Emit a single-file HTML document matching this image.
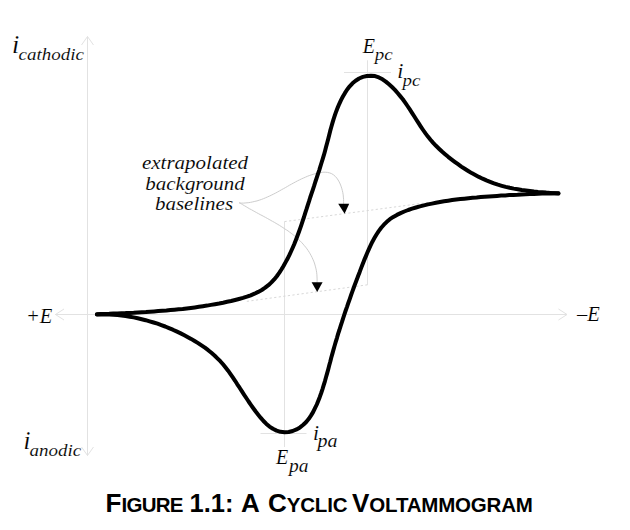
<!DOCTYPE html>
<html><head><meta charset="utf-8"><style>
html,body{margin:0;padding:0;background:#fff;width:630px;height:530px;overflow:hidden}
svg{position:absolute;left:0;top:0}
.t{font-family:"Liberation Serif",serif;font-style:italic;fill:#000;stroke:#fff;stroke-width:0.12px}
.cap{font-family:"Liberation Sans",sans-serif;font-weight:bold;fill:#000}
</style></head><body>
<svg width="630" height="530" viewBox="0 0 630 530">
<g stroke="#e2e2e2" stroke-width="1" fill="none">
<line x1="87.5" y1="36.5" x2="87.5" y2="455.5"/>
<polyline points="81.5,45 87.5,36.5 93.5,45"/>
<polyline points="81.5,447 87.5,455.5 93.5,447"/>
<line x1="55" y1="314.5" x2="567" y2="314.5"/>
<polyline points="64,309 55.5,314.5 64,320"/>
<polyline points="558.5,309 567,314.5 558.5,320"/>
<line x1="367.5" y1="60.3" x2="367.5" y2="284.8"/>
<line x1="344" y1="72.5" x2="391" y2="72.5"/>
<line x1="284.5" y1="221.6" x2="284.5" y2="447"/>
<line x1="260.5" y1="433.5" x2="306.5" y2="433.5"/>
</g>
<g stroke="#d8d8d8" stroke-width="1" fill="none" stroke-dasharray="2.2,2.4">
<line x1="367.5" y1="284.8" x2="245" y2="301.6"/>
<line x1="284.5" y1="221.6" x2="430" y2="202.3"/>
</g>
<g stroke="#cdcdcd" stroke-width="1" fill="none">
<path d="M239.2,203.1 L241.4,203.1 L243.7,203.1 L245.9,202.9 L248.2,202.7 L250.4,202.4 L252.6,201.9 L254.8,201.4 L257.0,200.9 L259.2,200.2 L261.3,199.5 L263.4,198.7 L265.5,197.8 L267.6,196.9 L269.6,196.0 L271.7,195.0 L273.7,194.0 L275.7,193.0 L277.7,191.9 L279.7,190.8 L281.6,189.7 L283.6,188.6 L285.6,187.5 L287.5,186.4 L289.5,185.2 L291.5,184.1 L293.5,183.0 L295.4,182.0 L297.4,180.9 L299.5,179.9 L301.5,178.9 L303.5,178.0 L305.6,177.1 L307.7,176.2 L309.8,175.4 L311.9,174.7 L314.1,174.0 L316.3,173.4 L318.5,172.9 L320.7,172.5 L322.9,172.2 L325.2,172.2 L327.4,172.4 L329.6,172.9 L331.7,173.7 L333.6,174.9 L335.3,176.4 L336.8,178.1 L338.1,180.0 L339.2,181.9 L340.2,184.0 L341.0,186.1 L341.7,188.2 L342.3,190.4 L342.8,192.6 L343.2,194.8 L343.4,197.1 L343.6,199.3 L343.6,201.6 L343.6,203.9"/>
<path d="M239.3,202.5 L241.0,203.6 L242.7,204.7 L244.4,205.7 L246.1,206.7 L247.9,207.8 L249.6,208.8 L251.4,209.7 L253.1,210.7 L254.9,211.7 L256.7,212.7 L258.4,213.6 L260.2,214.6 L262.0,215.5 L263.8,216.5 L265.5,217.4 L267.3,218.4 L269.1,219.4 L270.8,220.4 L272.6,221.4 L274.3,222.3 L276.1,223.4 L277.8,224.4 L279.5,225.4 L281.2,226.5 L282.9,227.6 L284.6,228.7 L286.3,229.8 L288.0,230.9 L289.6,232.1 L291.2,233.3 L292.8,234.5 L294.4,235.8 L295.9,237.1 L297.4,238.4 L298.9,239.8 L300.4,241.2 L301.8,242.7 L303.1,244.1 L304.4,245.7 L305.7,247.2 L306.9,248.8 L308.1,250.5 L309.2,252.2 L310.2,253.9 L311.2,255.7 L312.1,257.5 L312.9,259.3 L313.7,261.1 L314.4,263.0 L315.0,265.0 L315.5,266.9 L316.0,268.9 L316.4,270.8 L316.7,272.8 L316.9,274.8 L317.0,276.9 L317.1,278.9 L317.1,280.9 L317.0,282.9"/>
</g>
<g fill="#000">
<path d="M338.2,203.8 L349.2,203.8 L344.6,213.8 Z"/>
<path d="M311.6,282.2 L322.6,282.2 L317.2,292 Z"/>
</g>
<g stroke="#000" stroke-width="4.0" fill="none" stroke-linecap="round" stroke-linejoin="round">
<path d="M96.9,314.3 L101.0,314.1 L105.1,313.9 L109.2,313.8 L113.3,313.6 L117.4,313.4 L121.4,313.2 L125.5,313.1 L129.6,312.9 L133.7,312.7 L137.8,312.4 L141.9,312.2 L146.0,312.0 L150.0,311.7 L154.1,311.4 L158.2,311.1 L162.3,310.8 L166.4,310.5 L170.4,310.1 L174.5,309.7 L178.6,309.3 L182.7,308.9 L186.7,308.4 L190.8,307.9 L194.8,307.4 L198.9,306.8 L202.9,306.2 L207.0,305.6 L211.0,304.9 L215.0,304.2 L219.1,303.5 L223.1,302.7 L227.1,301.8 L231.1,301.0 L235.1,300.0 L239.0,299.0 L243.0,297.9 L246.9,296.7 L250.7,295.3 L254.5,293.7 L258.2,291.9 L261.8,290.0 L265.2,287.7 L268.4,285.2 L271.4,282.4 L274.2,279.4 L276.8,276.2 L279.2,272.9 L281.4,269.5 L283.5,266.0 L285.5,262.4 L287.5,258.8 L289.3,255.2 L291.0,251.5 L292.7,247.7 L294.3,244.0 L295.8,240.2 L297.3,236.3 L298.7,232.5 L300.1,228.6 L301.4,224.8 L302.7,220.9 L304.0,217.0 L305.2,213.1 L306.5,209.2 L307.7,205.3 L309.0,201.4 L310.2,197.5 L311.5,193.6 L312.8,189.8 L314.1,185.9 L315.3,182.0 L316.6,178.1 L317.9,174.2 L319.2,170.3 L320.4,166.4 L321.6,162.5 L322.8,158.6 L324.0,154.7 L325.1,150.7 L326.1,146.8 L327.2,142.8 L328.2,138.9 L329.2,134.9 L330.2,130.9 L331.3,127.0 L332.4,123.1 L333.6,119.1 L334.9,115.2 L336.2,111.4 L337.7,107.6 L339.3,103.8 L341.0,100.1 L342.9,96.5 L345.0,92.9 L347.2,89.5 L349.7,86.3 L352.5,83.3 L355.6,80.7 L359.1,78.5 L362.9,76.9 L366.9,76.0 L370.9,75.7 L375.0,76.1 L378.9,77.4 L382.5,79.3 L385.8,81.6 L389.0,84.3 L392.0,87.0 L394.9,89.9 L397.6,93.0 L400.2,96.1 L402.8,99.3 L405.2,102.6 L407.5,106.0 L409.8,109.4 L412.0,112.8 L414.2,116.3 L416.4,119.8 L418.6,123.2 L420.8,126.6 L423.1,130.0 L425.5,133.4 L427.9,136.6 L430.5,139.8 L433.2,142.9 L436.0,145.8 L439.0,148.7 L442.0,151.5 L445.1,154.2 L448.2,156.8 L451.4,159.3 L454.7,161.8 L458.0,164.2 L461.3,166.6 L464.7,168.8 L468.2,171.0 L471.7,173.1 L475.3,175.0 L478.9,176.9 L482.6,178.7 L486.4,180.4 L490.1,181.9 L494.0,183.4 L497.9,184.7 L501.8,185.8 L505.7,186.9 L509.7,187.8 L513.7,188.6 L517.8,189.3 L521.8,190.0 L525.9,190.5 L529.9,191.0 L534.0,191.5 L538.1,191.9 L542.1,192.2 L546.2,192.6 L550.3,192.9 L554.4,193.2 L558.4,193.5"/>
<path d="M558.5,193.2 L554.4,193.3 L550.3,193.4 L546.2,193.5 L542.1,193.6 L538.0,193.7 L533.9,193.9 L529.8,194.1 L525.7,194.3 L521.6,194.4 L517.5,194.7 L513.4,194.9 L509.3,195.1 L505.2,195.4 L501.1,195.6 L497.0,195.9 L492.9,196.2 L488.9,196.5 L484.8,196.8 L480.7,197.1 L476.6,197.5 L472.5,197.8 L468.4,198.2 L464.3,198.7 L460.3,199.1 L456.2,199.6 L452.1,200.1 L448.1,200.7 L444.0,201.3 L440.0,202.0 L435.9,202.8 L431.9,203.6 L427.9,204.4 L423.9,205.4 L419.9,206.4 L416.0,207.5 L412.1,208.7 L408.2,210.0 L404.3,211.5 L400.6,213.1 L396.9,214.9 L393.3,216.9 L389.9,219.2 L386.8,221.8 L383.9,224.7 L381.2,227.8 L378.7,231.1 L376.5,234.5 L374.4,238.1 L372.4,241.7 L370.6,245.4 L368.9,249.1 L367.3,252.8 L365.7,256.6 L364.1,260.4 L362.6,264.2 L361.1,268.1 L359.7,271.9 L358.2,275.7 L356.8,279.6 L355.3,283.4 L353.9,287.3 L352.5,291.1 L351.1,295.0 L349.8,298.8 L348.4,302.7 L347.1,306.6 L345.7,310.5 L344.4,314.4 L343.1,318.3 L341.9,322.2 L340.6,326.1 L339.4,330.0 L338.1,333.9 L337.0,337.8 L335.8,341.7 L334.6,345.7 L333.5,349.6 L332.4,353.6 L331.3,357.5 L330.3,361.5 L329.2,365.5 L328.2,369.4 L327.1,373.4 L326.0,377.3 L324.9,381.3 L323.7,385.2 L322.5,389.1 L321.2,393.0 L319.8,396.9 L318.3,400.7 L316.8,404.5 L315.0,408.2 L313.2,411.9 L311.1,415.4 L308.8,418.8 L306.2,422.0 L303.3,424.8 L300.0,427.4 L296.5,429.4 L292.7,431.0 L288.7,432.0 L284.6,432.2 L280.5,431.8 L276.6,430.6 L272.9,428.8 L269.5,426.6 L266.4,423.9 L263.5,421.0 L260.8,417.9 L258.2,414.7 L255.7,411.5 L253.3,408.2 L250.9,404.8 L248.6,401.5 L246.3,398.0 L244.0,394.6 L241.8,391.2 L239.6,387.7 L237.3,384.3 L235.1,380.8 L232.8,377.4 L230.5,374.1 L228.1,370.7 L225.6,367.5 L223.0,364.3 L220.3,361.2 L217.4,358.3 L214.5,355.5 L211.4,352.8 L208.2,350.2 L204.9,347.7 L201.5,345.4 L198.1,343.1 L194.6,341.0 L191.1,338.9 L187.5,336.9 L183.9,335.0 L180.2,333.1 L176.5,331.4 L172.8,329.7 L169.0,328.1 L165.2,326.5 L161.3,325.1 L157.5,323.7 L153.6,322.5 L149.6,321.3 L145.7,320.2 L141.7,319.2 L137.7,318.3 L133.7,317.4 L129.7,316.7 L125.6,316.1 L121.5,315.5 L117.5,315.1 L113.4,314.7 L109.3,314.5 L105.2,314.4 L101.1,314.3 L97.0,314.4"/>
</g>
<text class="t" transform="translate(12,52.8) scale(1.0,1)" font-size="26">i</text>
<text class="t" transform="translate(18.5,60) scale(1.0,0.93)" font-size="19">cathodic</text>
<text class="t" transform="translate(23.5,448.5) scale(1.0,1)" font-size="25">i</text>
<text class="t" transform="translate(29.5,455.7) scale(1.0,0.93)" font-size="19">anodic</text>
<text class="t" transform="translate(26,322.7) scale(1.0,1)" font-size="20.5">+E</text>
<text class="t" transform="translate(577,321) scale(1.0,1)" font-size="20.5">&#8211;E</text>
<text class="t" transform="translate(362.7,52.6) scale(1.0,1)" font-size="20">E</text>
<text class="t" transform="translate(374.7,60.2) scale(1.0,0.93)" font-size="19">pc</text>
<text class="t" transform="translate(397.3,77.6) scale(1.0,0.93)" font-size="22">i</text>
<text class="t" transform="translate(402.5,85.7) scale(1.0,0.93)" font-size="19">pc</text>
<text class="t" transform="translate(276,463.8) scale(1.0,1)" font-size="20">E</text>
<text class="t" transform="translate(289,472.2) scale(1.0,0.93)" font-size="19.5">pa</text>
<text class="t" transform="translate(313,439.5) scale(1.0,1)" font-size="21.5">i</text>
<text class="t" transform="translate(317.5,447.2) scale(1.0,0.93)" font-size="20">pa</text>
<text class="t" transform="translate(195,168.6) scale(1.0,0.93)" font-size="21" text-anchor="middle">extrapolated</text>
<text class="t" transform="translate(195,189.5) scale(1.0,0.93)" font-size="21" text-anchor="middle">background</text>
<text class="t" transform="translate(194,210.1) scale(1.0,0.93)" font-size="21" text-anchor="middle">baselines</text>
<text class="cap" y="512.4"><tspan x="105.5" font-size="26">F</tspan><tspan font-size="20.5" letter-spacing="-0.7">IGURE</tspan><tspan x="189.5" font-size="25.5">1.1:</tspan><tspan x="241" font-size="26">A</tspan><tspan x="268" font-size="26">C</tspan><tspan font-size="20.5" letter-spacing="-0.2">YCLIC</tspan><tspan x="352" font-size="26">V</tspan><tspan font-size="20.5" letter-spacing="-0.2">OLTAMMOGRAM</tspan></text>
</svg>
</body></html>
